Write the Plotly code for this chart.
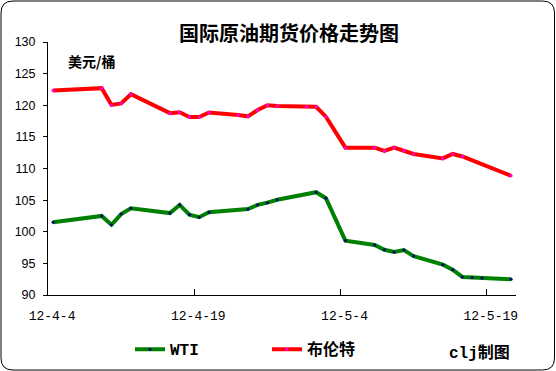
import plotly.graph_objects as go

W, H = 556, 371
ML, MR, MT, MB = 48, 40, 42, 76
PW, PH = W - ML - MR, H - MT - MB

def px(x):
    return (x - ML) / PW

def py(y):
    return (H - MB - y) / PH

wti_dates = ["2012-04-04", "2012-04-09", "2012-04-10", "2012-04-11", "2012-04-12",
             "2012-04-16", "2012-04-17", "2012-04-18", "2012-04-19", "2012-04-20",
             "2012-04-24", "2012-04-25", "2012-04-26", "2012-04-27", "2012-05-01",
             "2012-05-02", "2012-05-04", "2012-05-07", "2012-05-08", "2012-05-09",
             "2012-05-10", "2012-05-11", "2012-05-14", "2012-05-15", "2012-05-16",
             "2012-05-17", "2012-05-18", "2012-05-21"]
wti_values = [101.5, 102.5, 101.1, 102.8, 103.7,
              102.95, 104.25, 102.7, 102.3, 103.1,
              103.6, 104.25, 104.6, 105.05, 106.25,
              105.3, 98.6, 97.9, 97.15, 96.8,
              97.1, 96.15, 94.8, 94.0, 92.85,
              92.75, 92.7, 92.5]

brent_dates = ["2012-04-04", "2012-04-09", "2012-04-10", "2012-04-11", "2012-04-12",
               "2012-04-16", "2012-04-17", "2012-04-18", "2012-04-19", "2012-04-20",
               "2012-04-23", "2012-04-24", "2012-04-25", "2012-04-26", "2012-04-27",
               "2012-04-30", "2012-05-01", "2012-05-02", "2012-05-04", "2012-05-07",
               "2012-05-08", "2012-05-09", "2012-05-10", "2012-05-11", "2012-05-14",
               "2012-05-15", "2012-05-16", "2012-05-21"]
brent_values = [122.35, 122.7, 120.05, 120.3, 121.75,
                118.75, 118.9, 118.15, 118.15, 118.85,
                118.45, 118.25, 119.25, 120.0, 119.9,
                119.75, 119.75, 118.2, 113.3, 113.3,
                112.8, 113.3, 112.8, 112.3, 111.6,
                112.3, 111.9, 108.85]

tick_vals = ["2012-04-03 12:00", "2012-04-18 12:00", "2012-05-03 12:00", "2012-05-18 12:00"]
tick_text = ["12-4-4", "12-4-19", "12-5-4", "12-5-19"]

title_text = "国际原油期货价格走势图"
unit_text = "美元/桶"
credit_text = "clj制图"

mono = "Liberation Mono, Noto Sans CJK SC, monospace"
cjk = "Noto Sans CJK SC, sans-serif"

fig = go.Figure()
fig.add_trace(go.Scatter(
    x=wti_dates, y=wti_values, name="WTI", mode="lines+markers",
    line=dict(color="#008000", width=4),
    marker=dict(color="#000080", size=3, symbol="circle"),
))
fig.add_trace(go.Scatter(
    x=brent_dates, y=brent_values, name="布伦特", mode="lines+markers",
    line=dict(color="#FF0000", width=4),
    marker=dict(color="#FF00FF", size=3, symbol="circle"),
))

# rounded border around whole chart
x0, x1, y0, y1, r = 1, 554.5, 1, 370, 12
path = (f"M {px(x0 + r)},{py(y0)} L {px(x1 - r)},{py(y0)} "
        f"Q {px(x1)},{py(y0)} {px(x1)},{py(y0 + r)} "
        f"L {px(x1)},{py(y1 - r)} Q {px(x1)},{py(y1)} {px(x1 - r)},{py(y1)} "
        f"L {px(x0 + r)},{py(y1)} Q {px(x0)},{py(y1)} {px(x0)},{py(y1 - r)} "
        f"L {px(x0)},{py(y0 + r)} Q {px(x0)},{py(y0)} {px(x0 + r)},{py(y0)} Z")

fig.update_layout(
    width=W, height=H,
    margin=dict(l=ML, r=MR, t=MT, b=MB, pad=0, autoexpand=False),
    paper_bgcolor="white", plot_bgcolor="white",
    showlegend=True,
    legend=dict(
        orientation="h", x=px(130), y=py(349.3), xanchor="left", yanchor="middle",
        font=dict(family=mono, size=16, color="black", weight="bold"),
        entrywidth=92, bgcolor="rgba(0,0,0,0)", borderwidth=0,
        itemclick=False, itemdoubleclick=False,
    ),
    xaxis=dict(
        type="date", range=["2012-04-03 11:50", "2012-05-21 12:00"],
        tickvals=tick_vals, ticktext=tick_text,
        ticks="inside", ticklen=6, tickcolor="black", tickwidth=1,
        showline=True, linecolor="black", linewidth=1,
        showgrid=False, zeroline=False,
        tickfont=dict(family=mono, size=13, color="black"),
        ticklabelshift=4, ticklabelstandoff=8,
    ),
    yaxis=dict(
        range=[90, 130], tickvals=[90, 95, 100, 105, 110, 115, 120, 125, 130],
        ticks="outside", ticklen=4, tickcolor="black", tickwidth=1,
        showline=True, linecolor="black", linewidth=1,
        showgrid=False, zeroline=False,
        tickfont=dict(family="Liberation Sans, Arial, sans-serif", size=12.5, color="black"),
        ticklabelstandoff=5,
    ),
    shapes=[dict(type="path", xref="paper", yref="paper", path=path,
                 line=dict(color="black", width=1), fillcolor="rgba(0,0,0,0)", layer="below")],
    annotations=[
        dict(text=title_text, xref="paper", yref="paper", x=px(289.4), y=py(32.3),
             xanchor="center", yanchor="middle", showarrow=False,
             font=dict(family=cjk, size=20, color="black", weight="bold")),
        dict(text=unit_text, xref="paper", yref="paper", x=px(91.3), y=py(61),
             xanchor="center", yanchor="middle", showarrow=False,
             font=dict(family=cjk, size=14, color="black", weight="bold")),
        dict(text=credit_text, xref="paper", yref="paper", x=px(479), y=py(353.3),
             xanchor="center", yanchor="middle", showarrow=False,
             font=dict(family=mono, size=16, color="black", weight="bold")),
    ],
)

fig.write_html("out.html", config={"displayModeBar": False},
               post_script="document.body.style.margin='0px';document.body.style.padding='0px';")
